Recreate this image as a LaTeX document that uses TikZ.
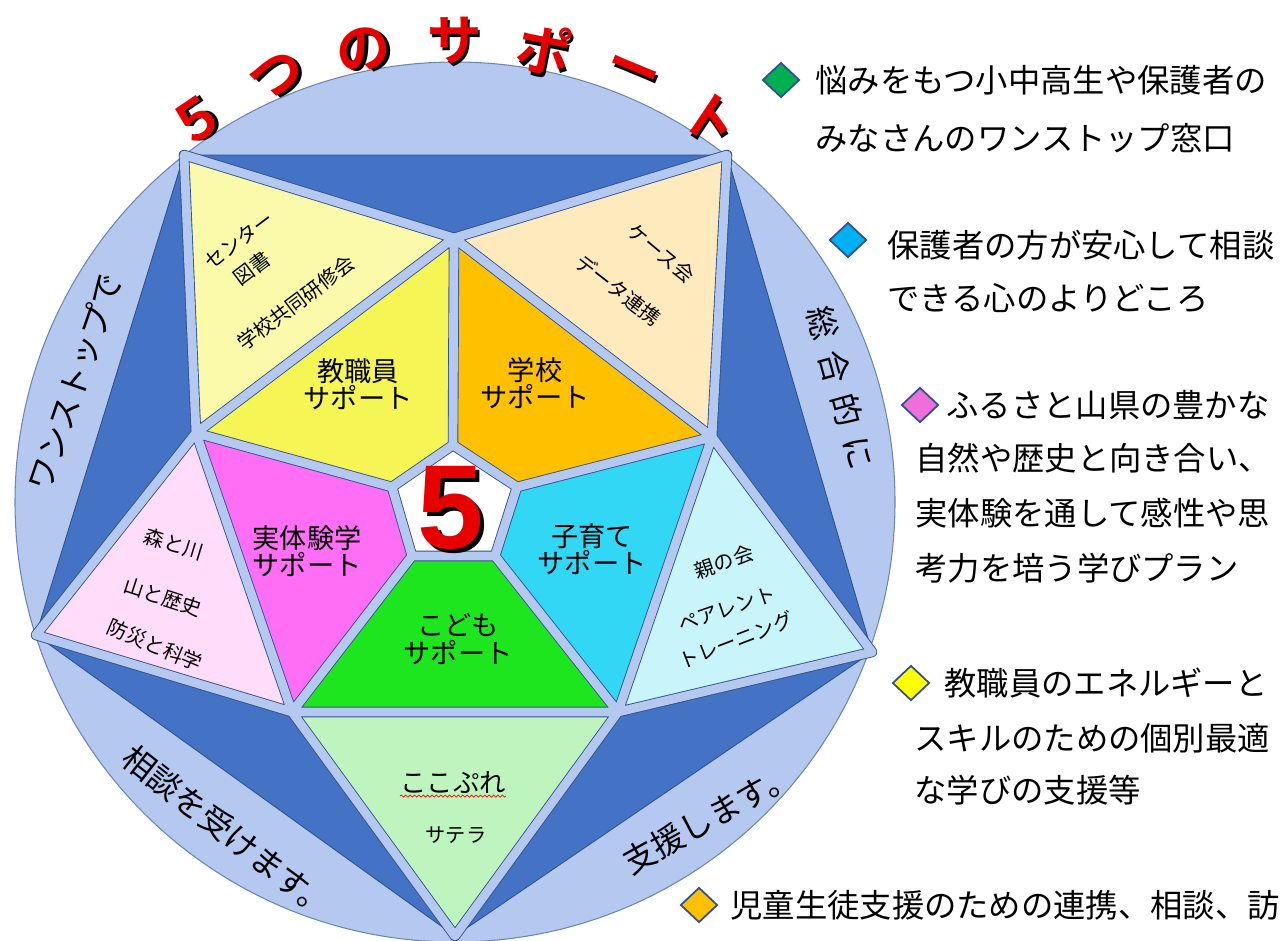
\documentclass[tikz,border=0pt]{standalone}
\usepackage{fontspec}
\setmainfont{Noto Sans CJK JP}
\newfontfamily\heavyjp{Noto Sans CJK JP Bold}
\newfontfamily\digitfont{Liberation Sans}
\usetikzlibrary{shapes.geometric,decorations.pathmorphing}

\definecolor{ringblue}{RGB}{180,200,240}
\definecolor{deepblue}{RGB}{68,114,196}
\definecolor{edgeblue}{RGB}{47,82,143}
\definecolor{paleyellow}{RGB}{250,250,170}
\definecolor{peach}{RGB}{255,234,190}
\definecolor{lemon}{RGB}{245,245,85}
\definecolor{amber}{RGB}{255,192,0}
\definecolor{skyfill}{RGB}{50,215,245}
\definecolor{icefill}{RGB}{200,245,250}
\definecolor{limefill}{RGB}{30,230,30}
\definecolor{mintfill}{RGB}{190,245,190}
\definecolor{magentafill}{RGB}{255,110,245}
\definecolor{blushfill}{RGB}{255,220,250}
\definecolor{titlered}{RGB}{230,0,0}
\definecolor{tickgreen}{RGB}{0,176,80}
\definecolor{tickblue}{RGB}{0,176,240}
\definecolor{tickpink}{RGB}{240,110,220}
\definecolor{tickyellow}{RGB}{255,255,0}

% red letter with a black shadow
\newcommand\shadedred[2]{\makebox[0pt][l]{\hspace{#2}\raisebox{-#2}{\textcolor{black}{#1}}}\textcolor{titlered}{#1}}

\begin{document}
\begin{tikzpicture}[x=0.02cm, y=-0.02cm,
    gap/.style={draw=edgeblue, line width=0.5pt, line join=round, double=ringblue, double distance=5pt},
    bullet/.style={diamond, draw=edgeblue, line width=1pt, minimum width=0.74cm, minimum height=0.7cm, inner sep=0pt},
    item/.style={anchor=west, inner sep=0pt, font=\fontsize{18.4}{20}\selectfont},
    pieceword/.style={align=center, inner sep=0pt, font=\fontsize{15.5}{15.5}\selectfont},
    smallword/.style={inner sep=0pt, font=\fontsize{11.5}{12}\selectfont},
    bandword/.style={inner sep=0pt, font=\fontsize{18.5}{20}\selectfont},
    titlechar/.style={inner sep=0pt, font=\heavyjp\fontsize{31}{32}\selectfont}]

    \useasboundingbox (0,0) rectangle (1288,940);
    \fill[white] (0,0) rectangle (1288,940);

    % Ring
    \filldraw[fill=ringblue, draw=edgeblue!70, line width=0.6pt] (455,502) circle [radius=440];

    % Corner and junction points
    \coordinate (TL) at (184,155);
    \coordinate (TR) at (727,155);
    \coordinate (R) at (872,652);
    \coordinate (B) at (455,936);
    \coordinate (L) at (36,635);
    \coordinate (Pt) at (454,238);
    \coordinate (Pr) at (712,437);
    \coordinate (Pbr) at (618,712);
    \coordinate (Pbl) at (292,712);
    \coordinate (Pl) at (196,433);
    \coordinate (Ct) at (453,445);
    \coordinate (Cr) at (517,487);
    \coordinate (Cbr) at (495,556);
    \coordinate (Cbl) at (412,556);
    \coordinate (Cl) at (392,487);

    % Dark pentagon
    \filldraw[fill=deepblue, draw=edgeblue, line width=0.5pt] (TL) -- (TR) -- (R) -- (B) -- (L) -- cycle;

    % Outer triangles
    \fill[paleyellow] (TL) -- (Pt) -- (Pl) -- cycle;
    \fill[peach] (TR) -- (Pr) -- (Pt) -- cycle;
    \fill[icefill] (R) -- (Pbr) -- (Pr) -- cycle;
    \fill[mintfill] (B) -- (Pbl) -- (Pbr) -- cycle;
    \fill[blushfill] (L) -- (Pl) -- (Pbl) -- cycle;

    % Inner pieces
    \fill[lemon] (Pt) -- (Pl) -- (Cl) -- (Ct) -- cycle;
    \fill[amber] (Pt) -- (Ct) -- (Cr) -- (Pr) -- cycle;
    \fill[skyfill] (Pr) -- (Cr) -- (Cbr) -- (Pbr) -- cycle;
    \fill[limefill] (Pbr) -- (Cbr) -- (Cbl) -- (Pbl) -- cycle;
    \fill[magentafill] (Pbl) -- (Cbl) -- (Cl) -- (Pl) -- cycle;
    \fill[white] (Ct) -- (Cr) -- (Cbr) -- (Cbl) -- (Cl) -- cycle;

    % Gaps
    \draw[gap] (TL) -- (Pt) -- (TR) -- (Pr) -- (R) -- (Pbr) -- (B) -- (Pbl) -- (L) -- (Pl) -- cycle
        (Pt) -- (Pr) -- (Pbr) -- (Pbl) -- (Pl) -- cycle
        (Pt) -- (Ct) (Pr) -- (Cr) (Pbr) -- (Cbr) (Pbl) -- (Cbl) (Pl) -- (Cl)
        (Ct) -- (Cr) -- (Cbr) -- (Cbl) -- (Cl) -- cycle;

    % Title on the arc
    \begin{scope}[shift={(455,502)}]
        \foreach \ch [count=\i from 0] in {５,つ,の,サ,ポ,ー,ト} {
            \pgfmathsetmacro\ang{124-11.3*\i}
            \node[titlechar, rotate=\ang-90] (title\i) at (-\ang:460) {\shadedred{\ch}{1.6pt}};
        }
    \end{scope}

    % Centre
    \node[inner sep=0pt, font=\digitfont\bfseries\fontsize{68}{70}\selectfont] (five) at (451,510) {\shadedred{5}{2pt}};

    % Inner labels
    \node[pieceword] (staff) at (358,384) {教職員\\サポート};
    \node[pieceword] (school) at (535,383) {学校\\サポート};
    \node[pieceword] (hands) at (307,551) {実体験学\\サポート};
    \node[pieceword] (raise) at (592,549) {子育て\\サポート};
    \node[pieceword] (kids) at (458,639) {こども\\サポート};

    % Outer labels
    \node[smallword, rotate=37] (centre) at (239,240) {センター};
    \node[smallword, rotate=37] (books) at (252,268) {図書};
    \node[smallword, rotate=37] (joint) at (296,303) {学校共同研修会};
    \node[smallword, rotate=-40] (cases) at (661,253) {ケース会};
    \node[smallword, rotate=-38] (data) at (618,290) {データ連携};
    \node[smallword, rotate=19] (parents) at (724,562) {親の会};
    \node[smallword, rotate=19] (pair) at (727,609) {ペアレント};
    \node[smallword, rotate=21] (train) at (736,640) {トレーニング};
    \node[smallword, rotate=-17] (forest) at (174,544) {森と川};
    \node[smallword, rotate=-18] (hills) at (163,597) {山と歴史};
    \node[smallword, rotate=-23] (safety) at (155,645) {防災と科学};
    \node[inner sep=0pt, font=\fontsize{15}{16}\selectfont] (kokopure) at (453,783) {ここぷれ};
    \draw[red, line width=0.4pt, decorate, decoration={snake, amplitude=0.6pt, segment length=2.5pt}]
        ([yshift=-1pt]kokopure.south west) -- ([yshift=-1pt]kokopure.south east);
    \node[smallword] (satera) at (456,835) {サテラ};

    % Band labels
    \node[bandword, rotate=71] (onestop) at (75,382) {ワンストップで};
    \node[bandword, rotate=-74.5] (overall) at (841,388) {総\hspace{7pt}合\hspace{7pt}的\hspace{7pt}に};
    \node[bandword, rotate=-38] (consult) at (228,832) {相談を受けます。};
    \node[bandword, rotate=29] (assist) at (709,818) {支援します。};

    % Notes on the right
    \node[bullet, fill=tickgreen] (b1) at (781,80) {};
    \node[item] (t1a) at (815,80) {悩みをもつ小中高生や保護者の};
    \node[item] (t1b) at (815,138) {みなさんのワンストップ窓口};
    \node[bullet, fill=tickblue] (b2) at (848,240) {};
    \node[item] (t2a) at (887,245) {保護者の方が安心して相談};
    \node[item] (t2b) at (887,298) {できる心のよりどころ};
    \node[bullet, fill=tickpink] (b3) at (920,405) {};
    \node[item] (t3a) at (946,405) {ふるさと山県の豊かな};
    \node[item] (t3b) at (915,458) {自然や歴史と向き合い、};
    \node[item] (t3c) at (915,513) {実体験を通して感性や思};
    \node[item] (t3d) at (915,568) {考力を培う学びプラン};
    \node[bullet, fill=tickyellow] (b4) at (911,683) {};
    \node[item] (t4a) at (944,683) {教職員のエネルギーと};
    \node[item] (t4b) at (914,738) {スキルのための個別最適};
    \node[item] (t4c) at (914,790) {な学びの支援等};
    \node[bullet, fill=amber] (b5) at (699,905) {};
    \node[item] (t5a) at (730,905) {児童生徒支援のための連携、相談、訪};

\end{tikzpicture}
\end{document}
